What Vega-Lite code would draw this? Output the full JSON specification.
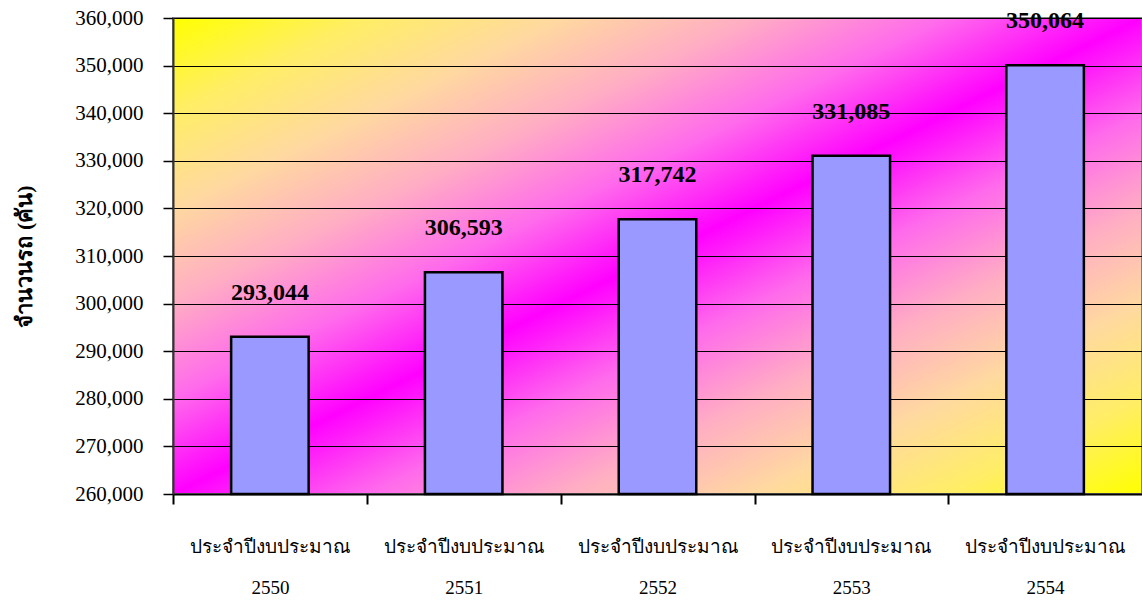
{
  "$schema": "https://vega.github.io/schema/vega-lite/v6.json",
  "width": 969,
  "height": 476,
  "padding": {"left": 173, "top": 18, "right": 0, "bottom": 107},
  "autosize": {"type": "none"},
  "background": "white",
  "config": {
    "font": "Liberation Serif",
    "view": {
      "fill": {
        "gradient": "linear",
        "x1": 0, "y1": 0, "x2": 1, "y2": 1,
        "stops": [
          {"offset": 0, "color": "#FFFF00"},
          {"offset": 0.1, "color": "#FFEE66"},
          {"offset": 0.2, "color": "#FFD9A0"},
          {"offset": 0.3, "color": "#FFADC4"},
          {"offset": 0.4, "color": "#FF6AEC"},
          {"offset": 0.5, "color": "#FF00FF"},
          {"offset": 0.6, "color": "#FF6AEC"},
          {"offset": 0.7, "color": "#FFADC4"},
          {"offset": 0.8, "color": "#FFD9A0"},
          {"offset": 0.9, "color": "#FFEE66"},
          {"offset": 1, "color": "#FFFF00"}
        ]
      },
      "stroke": "#808080",
      "strokeWidth": 2
    }
  },
  "data": {
    "values": [
      {"year": "2550", "label": "ประจำปีงบประมาณ", "count": 293044},
      {"year": "2551", "label": "ประจำปีงบประมาณ", "count": 306593},
      {"year": "2552", "label": "ประจำปีงบประมาณ", "count": 317742},
      {"year": "2553", "label": "ประจำปีงบประมาณ", "count": 331085},
      {"year": "2554", "label": "ประจำปีงบประมาณ", "count": 350064}
    ]
  },
  "encoding": {
    "x": {
      "field": "year",
      "type": "nominal",
      "scale": {"paddingInner": 0.6, "paddingOuter": 0.3},
      "axis": {
        "title": null,
        "bandPosition": 0,
        "tickOffset": -58,
        "labelOffset": 58,
        "labelAngle": 0,
        "labelExpr": "['ประจำปีงบประมาณ', datum.label]",
        "labelLineHeight": 41,
        "labelFontSize": 19,
        "labelColor": "black",
        "labelPadding": 33,
        "labelBaseline": "top",
        "labelOverlap": false,
        "ticks": true,
        "tickSize": 10,
        "tickColor": "black",
        "tickWidth": 2,
        "domainColor": "black",
        "domainWidth": 2
      }
    },
    "y": {
      "field": "count",
      "type": "quantitative",
      "scale": {"domain": [260000, 360000], "nice": false, "zero": false},
      "axis": {
        "title": "จำนวนรถ (คัน)",
        "titleFontSize": 22,
        "titleFontWeight": "bold",
        "titleColor": "black",
        "titlePadding": 38,
        "format": ",d",
        "values": [260000, 270000, 280000, 290000, 300000, 310000, 320000, 330000, 340000, 350000, 360000],
        "labelFontSize": 21,
        "labelColor": "black",
        "labelPadding": 20,
        "labelOverlap": false,
        "tickSize": 10,
        "tickColor": "black",
        "tickWidth": 1.5,
        "domainColor": "#333333",
        "domainWidth": 2,
        "grid": true,
        "gridColor": "black",
        "gridWidth": 1
      }
    }
  },
  "layer": [
    {
      "mark": {"type": "bar", "fill": "#9999FF", "stroke": "black", "strokeWidth": 2.5},
      "encoding": {"y2": {"datum": 260000}}
    },
    {
      "mark": {"type": "text", "baseline": "alphabetic", "dy": -37, "fontSize": 24, "fontWeight": "bold", "color": "black"},
      "encoding": {
        "text": {"field": "count", "type": "quantitative", "format": ","}
      }
    }
  ]
}
